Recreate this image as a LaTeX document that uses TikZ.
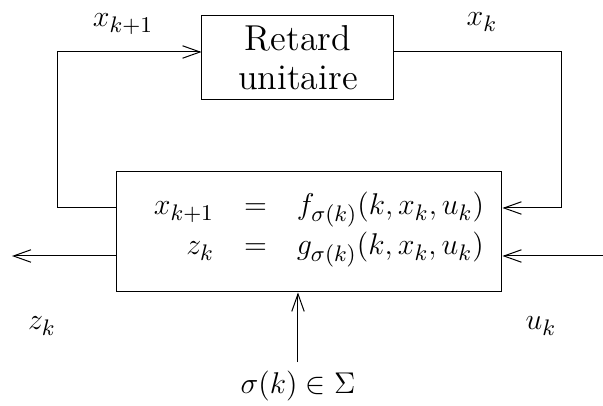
\documentclass[tikz,border=0pt]{standalone}
\usepackage{amsmath}
\usepackage{amssymb}
\usetikzlibrary{arrows.meta, positioning, calc}

\begin{document}
\begin{tikzpicture}[auto, x=0.4pt, y=-0.4pt, font=\fontsize{13}{16}\selectfont, >={Straight Barb[length=7pt,width=5pt]}]
    \useasboundingbox (0,0) rectangle (603,406);
    \node [draw, rectangle, minimum width=76.8pt, minimum height=33.6pt, align=center, font=\fontsize{14.4}{15.5}\selectfont] (delay) at (298,58) {Retard\\unitaire};
    \node [draw, rectangle, minimum width=154pt, minimum height=48pt] (sys) at (309.5,232) {};
    \node (eqs) at (319,227) {$\setlength{\arraycolsep}{6pt}\begin{array}{rcl}
        x_{k+1} & = & f_{\sigma(k)}(k,x_k,u_k)\\
        z_k & = & g_{\sigma(k)}(k,x_k,u_k)
    \end{array}$};
    \coordinate (fbtop) at (58,52);
    \coordinate (fbl) at (58,208);
    \coordinate (fbr) at (562,208);
    \coordinate (output) at (12,256);
    \coordinate (input) at (603,256);
    \node (sig) at (298,386) {$\sigma(k) \in \Sigma$};
    \node (xnext) at (123,24) {$x_{k+1}$};
    \node (xcur) at (482,22) {$x_k$};
    \node (zout) at (42,326) {$z_k$};
    \node (uin) at (541,326) {$u_k$};

    \draw [->] (sys.west |- fbl) -- (fbl) -- (fbtop) -- (delay.west |- fbtop);
    \draw [->] (delay.east |- fbtop) -| (fbr) -- (sys.east |- fbr);
    \draw [->] (sys.west |- output) -- (output);
    \draw [->] (input) -- (sys.east |- input);
    \draw [->] (sig.north) -- (sys.south -| sig.north);
\end{tikzpicture}
\end{document}
